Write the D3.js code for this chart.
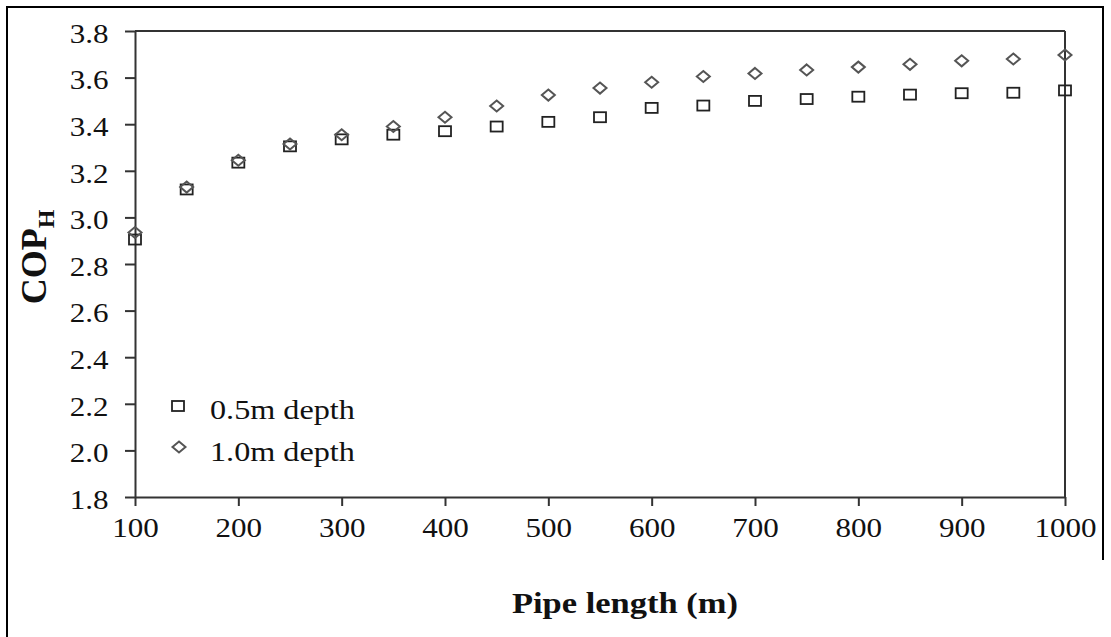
<!DOCTYPE html>
<html><head><meta charset="utf-8">
<script src="https://cdn.jsdelivr.net/npm/d3@7"></script>
<style>
html,body{margin:0;padding:0;background:#fff;}
svg{display:block;}
text{font-family:"Liberation Serif","Times New Roman",serif;fill:#111;}
</style></head>
<body>
<svg id="chart" width="1111" height="637"></svg>
<script>
const pipeLength = [100,150,200,250,300,350,400,450,500,550,600,650,700,750,800,850,900,950,1000];
const depth05 = [2.905,3.12,3.235,3.305,3.335,3.355,3.37,3.39,3.41,3.43,3.47,3.48,3.5,3.508,3.518,3.527,3.533,3.535,3.545];
const depth10 = [2.935,3.13,3.245,3.315,3.355,3.39,3.43,3.478,3.525,3.555,3.58,3.605,3.618,3.633,3.645,3.657,3.672,3.68,3.697];
const xTicks = [100,200,300,400,500,600,700,800,900,1000];
const yTicks = [1.8,2.0,2.2,2.4,2.6,2.8,3.0,3.2,3.4,3.6,3.8];
const seriesNames = ["0.5m depth","1.0m depth"];

const svg = d3.select("#chart");
const pLeft = 135, pRight = 1065, pTop = 31, pBottom = 497;
const x = d3.scaleLinear().domain([100,1000]).range([pLeft,pRight]);
const y = d3.scaleLinear().domain([1.8,3.8]).range([pBottom,pTop]);
const axisColor = "#333";
const sx = 1.15;

// outer frame (partial, as in the reference)
svg.append("line").attr("x1",7).attr("x2",7).attr("y1",6).attr("y2",637).attr("stroke","#000").attr("stroke-width",2);
svg.append("line").attr("x1",6).attr("x2",1104).attr("y1",7).attr("y2",7).attr("stroke","#000").attr("stroke-width",2);
svg.append("line").attr("x1",1103).attr("x2",1103).attr("y1",6).attr("y2",560).attr("stroke","#000").attr("stroke-width",2);

// plot box top and right lines
svg.append("line").attr("x1",pLeft).attr("x2",pRight).attr("y1",pTop).attr("y2",pTop).attr("stroke",axisColor).attr("stroke-width",2);
svg.append("line").attr("x1",pRight).attr("x2",pRight).attr("y1",pTop).attr("y2",pBottom).attr("stroke",axisColor).attr("stroke-width",2);

// x axis
const gx = svg.append("g").attr("transform",`translate(0,${pBottom})`)
  .call(d3.axisBottom(x).tickValues(xTicks).tickSize(9).tickSizeOuter(0).tickPadding(12).tickFormat(d3.format("d")));
gx.select(".domain").attr("stroke",axisColor).attr("stroke-width",2);
gx.selectAll(".tick line").attr("stroke",axisColor).attr("stroke-width",2);
gx.selectAll(".tick text").attr("font-size",27).attr("font-family","Liberation Serif").attr("fill","#111")
  .attr("transform",`scale(${sx},1)`);

// y axis
const gy = svg.append("g").attr("transform",`translate(${pLeft},0)`)
  .call(d3.axisLeft(y).tickValues(yTicks).tickSize(10).tickSizeOuter(0).tickPadding(13).tickFormat(d3.format(".1f")));
gy.select(".domain").attr("stroke",axisColor).attr("stroke-width",2);
gy.selectAll(".tick line").attr("stroke",axisColor).attr("stroke-width",2);
gy.selectAll(".tick text").attr("font-size",27).attr("font-family","Liberation Serif").attr("fill","#111")
  .attr("dy","0.42em").attr("transform",`scale(${sx},1)`);

// markers
const diamondPath = "M0,-5.5L6.5,0L0,5.5L-6.5,0Z";
function drawSquare(g, cx, cy){
  g.append("rect").attr("x",cx-6).attr("y",cy-5).attr("width",12).attr("height",10)
   .attr("fill","none").attr("stroke","#222").attr("stroke-width",1.8);
}
function drawDiamond(g, cx, cy){
  g.append("path").attr("d",diamondPath).attr("transform",`translate(${cx},${cy})`)
   .attr("fill","none").attr("stroke","#555").attr("stroke-width",2);
}
const marks = svg.append("g");
pipeLength.forEach((p,i)=>{ drawSquare(marks, x(p), y(depth05[i])); });
pipeLength.forEach((p,i)=>{ drawDiamond(marks, x(p), y(depth10[i])); });

// legend
const lg = svg.append("g");
drawSquare(lg, 178, 406);
drawDiamond(lg, 179, 447);
lg.append("text").attr("transform",`translate(210,419) scale(${sx},1)`).attr("font-size",28).text(seriesNames[0]);
lg.append("text").attr("transform",`translate(210,461) scale(${sx},1)`).attr("font-size",28).text(seriesNames[1]);

// axis titles
svg.append("text").attr("transform",`translate(625,613) scale(${sx},1)`).attr("text-anchor","middle")
  .attr("font-size",30).attr("font-weight","bold").text("Pipe length (m)");
const yl = svg.append("text").attr("transform","translate(46,257) rotate(-90)").attr("text-anchor","middle")
  .attr("font-size",36).attr("font-weight","bold");
yl.append("tspan").text("COP");
yl.append("tspan").attr("font-size",24).attr("dy",8).text("H");
</script>
</body></html>
